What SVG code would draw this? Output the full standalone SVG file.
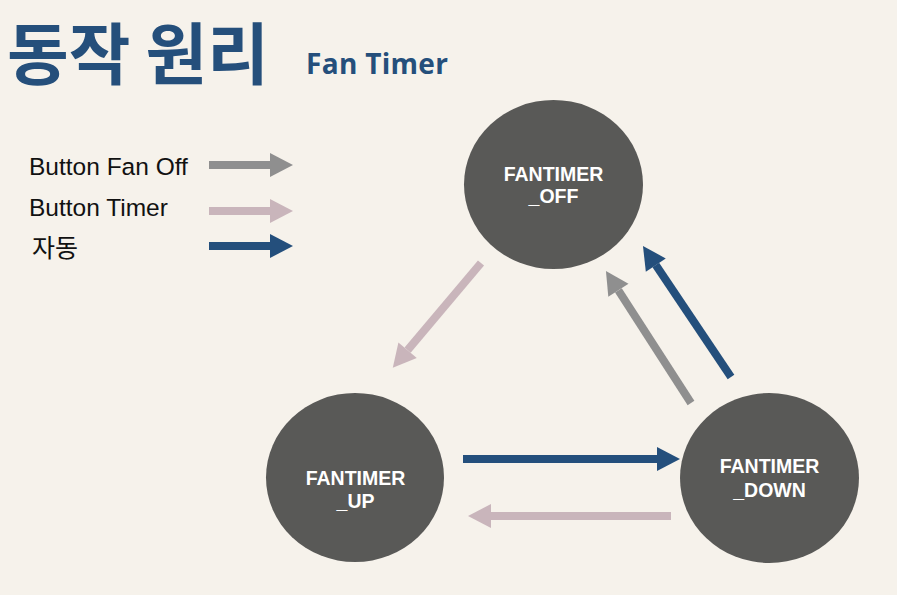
<svg xmlns="http://www.w3.org/2000/svg" width="897" height="595" viewBox="0 0 897 595">
  <style>
    .title { font-family: "Noto Sans CJK KR", "Noto Sans", sans-serif; font-weight: 700; font-size: 67px; fill: #254f7b; }
    .sub { font-family: "Open Sans", "Liberation Sans", sans-serif; font-weight: 700; font-size: 28px; fill: #254f7b; letter-spacing: 0.3px; }
    .leg { font-family: "Liberation Sans", "Noto Sans CJK KR", sans-serif; font-size: 24.5px; fill: #111111; }
    .legk { font-family: "Noto Sans CJK KR", sans-serif; font-size: 25px; fill: #111111; }
    .node { fill: #595957; }
    .lbl { font-family: "Liberation Sans", Arial, sans-serif; font-weight: 700; font-size: 19.5px; fill: #ffffff; text-anchor: middle; }
    .a { stroke-width: 8; fill: none; stroke-linecap: butt; }
    .gray { stroke: #8f8f8f; marker-end: url(#hg); }
    .pink { stroke: #c9b5bb; marker-end: url(#hp); }
    .blue { stroke: #244f7c; marker-end: url(#hb); }
  </style>
  <defs>
    <marker id="hg" viewBox="0 0 23 24" refX="0" refY="12" markerWidth="23" markerHeight="24" markerUnits="userSpaceOnUse" orient="auto" overflow="visible">
      <path d="M0,0 L23,12 L0,24 Z" fill="#8f8f8f"/>
    </marker>
    <marker id="hp" viewBox="0 0 23 24" refX="0" refY="12" markerWidth="23" markerHeight="24" markerUnits="userSpaceOnUse" orient="auto" overflow="visible">
      <path d="M0,0 L23,12 L0,24 Z" fill="#c9b5bb"/>
    </marker>
    <marker id="hb" viewBox="0 0 23 24" refX="0" refY="12" markerWidth="23" markerHeight="24" markerUnits="userSpaceOnUse" orient="auto" overflow="visible">
      <path d="M0,0 L23,12 L0,24 Z" fill="#244f7c"/>
    </marker>
  </defs>
  <rect x="0" y="0" width="897" height="595" fill="#f6f2eb"/>

  <text class="title" x="7" y="79">동작 원리</text>
  <text class="sub" x="306" y="74">Fan Timer</text>

  <g id="legend">
    <text class="leg" x="29" y="175">Button Fan Off</text>
    <text class="leg" x="29" y="216">Button Timer</text>
    <text class="legk" x="32" y="257">자동</text>
    <line class="a gray" x1="209" y1="165" x2="270" y2="165"/>
    <line class="a pink" x1="209" y1="211" x2="270" y2="211"/>
    <line class="a blue" x1="209" y1="246" x2="270" y2="246"/>
  </g>

  <g id="connectors">
    <line class="a pink" x1="481" y1="263" x2="407.6" y2="350.2"/>
    <line class="a gray" x1="691" y1="403" x2="618.4" y2="290.3"/>
    <line class="a blue" x1="731" y1="377" x2="655.8" y2="265.1"/>
    <line class="a blue" x1="463" y1="459" x2="657" y2="459"/>
    <line class="a pink" x1="671" y1="516" x2="491" y2="516"/>
  </g>

  <g id="fantimer_off">
    <ellipse class="node" cx="553.5" cy="184.5" rx="89.5" ry="84.5"/>
    <text class="lbl" x="553.5" y="181">FANTIMER</text>
    <text class="lbl" x="553.5" y="203">_OFF</text>
  </g>
  <g id="fantimer_up">
    <ellipse class="node" cx="355" cy="477.5" rx="89" ry="84.5"/>
    <text class="lbl" x="355.5" y="485">FANTIMER</text>
    <text class="lbl" x="355.5" y="508">_UP</text>
  </g>
  <g id="fantimer_down">
    <ellipse class="node" cx="769.5" cy="478" rx="89.5" ry="85"/>
    <text class="lbl" x="769.5" y="473">FANTIMER</text>
    <text class="lbl" x="769.5" y="497">_DOWN</text>
  </g>
</svg>
